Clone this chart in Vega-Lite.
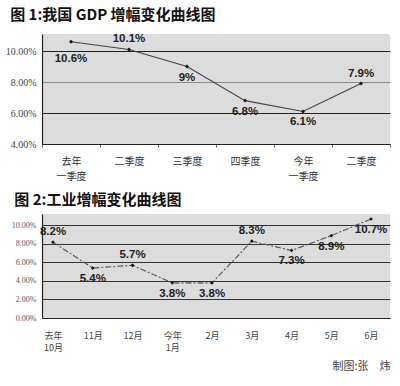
{
  "$schema": "https://vega.github.io/schema/vega-lite/v6.json",
  "background": "white",
  "padding": {"left": 5, "top": 8, "right": 5, "bottom": 0},
  "spacing": 12,
  "config": {
    "view": {"fill": "#dcdcdc", "stroke": null},
    "title": {"font": "Noto Sans CJK SC", "fontWeight": "bold", "fontSize": 15, "color": "#111", "anchor": "start"}
  },
  "vconcat": [
    {
      "title": {"text": "图 1:我国 GDP 增幅变化曲线图", "offset": 10, "dx": 5},
      "width": 348,
      "height": 110,
      "data": {"values": [
        {"q": "去年|一季度", "v": 10.6},
        {"q": "二季度", "v": 10.1},
        {"q": "三季度", "v": 9},
        {"q": "四季度", "v": 6.8},
        {"q": "今年|一季度", "v": 6.1},
        {"q": "二季度 ", "v": 7.9}
      ]},
      "transform": [{"calculate": "datum.v + '%'", "as": "t"}],
      "encoding": {
        "x": {"field": "q", "type": "ordinal", "sort": null,
          "scale": {"type": "band", "paddingInner": 0, "paddingOuter": 0},
          "axis": {"title": null, "labelAngle": 0, "labelExpr": "split(datum.label, '|')",
            "labelFont": "Noto Sans CJK SC", "labelFontSize": 10, "labelColor": "#333", "labelLineHeight": 15,
            "labelPadding": 9, "tickBand": "extent", "tickSize": 3, "tickColor": "#666", "domainColor": "#222", "domainWidth": 1.2}},
        "y": {"field": "v", "type": "quantitative",
          "scale": {"domain": [4, 11.1], "nice": false, "zero": false},
          "axis": {"title": null, "values": [4, 6, 8, 10], "labelExpr": "format(datum.value, '.2f') + '%'",
            "labelFont": "Liberation Serif", "labelFontSize": 10, "labelColor": "#444", "ticks": false, "labelPadding": 6,
            "grid": true, "gridColor": {"condition": {"test": "datum.value === 8", "value": "#8a8a8a"}, "value": "#222"},
            "gridWidth": 1.2, "domainColor": "#222", "domainWidth": 1.2}}
      },
      "layer": [
        {"mark": {"type": "line", "stroke": "#444", "strokeWidth": 1.1}},
        {"mark": {"type": "point", "shape": "diamond", "filled": true, "fill": "#111", "size": 16, "opacity": 1}},
        {"transform": [{"filter": "indexof(['二季度', '二季度 '], datum.q) >= 0"}],
          "mark": {"type": "text", "font": "Liberation Sans", "fontWeight": "bold", "fontSize": 11.5, "fill": "#222", "baseline": "middle", "dy": -10},
          "encoding": {"text": {"field": "t"}}},
        {"transform": [{"filter": "datum.q === '去年|一季度'"}],
          "mark": {"type": "text", "font": "Liberation Sans", "fontWeight": "bold", "fontSize": 11.5, "fill": "#222", "baseline": "middle", "dy": 17},
          "encoding": {"text": {"field": "t"}}},
        {"transform": [{"filter": "indexof(['二季度', '二季度 ', '去年|一季度'], datum.q) < 0"}],
          "mark": {"type": "text", "font": "Liberation Sans", "fontWeight": "bold", "fontSize": 11.5, "fill": "#222", "baseline": "middle", "dy": 11},
          "encoding": {"text": {"field": "t"}}}
      ]
    },
    {
      "title": {"text": "图 2:工业增幅变化曲线图", "offset": 6, "dx": 3},
      "width": 348,
      "height": 104,
      "data": {"values": [
        {"m": "去年|10月", "v": 8.2},
        {"m": "11月", "v": 5.4},
        {"m": "12月", "v": 5.7},
        {"m": "今年|1月", "v": 3.8},
        {"m": "2月", "v": 3.8},
        {"m": "3月", "v": 8.3},
        {"m": "4月", "v": 7.3},
        {"m": "5月", "v": 8.9},
        {"m": "6月", "v": 10.7}
      ]},
      "transform": [{"calculate": "datum.v + '%'", "as": "t"}],
      "encoding": {
        "x": {"field": "m", "type": "ordinal", "sort": null,
          "scale": {"type": "point", "padding": 0.377, "align": 0.367},
          "axis": {"title": "制图:张　炜", "titleAnchor": "end", "titleFont": "Noto Sans CJK SC", "titleFontSize": 11,
            "titleFontWeight": "normal", "titleColor": "#444", "titlePadding": 8,
            "labelAngle": 0, "labelExpr": "split(datum.label, '|')",
            "labelFont": "Noto Sans CJK SC", "labelFontSize": 9, "labelColor": "#444", "labelLineHeight": 12,
            "labelPadding": 13, "ticks": false, "domainColor": "#222", "domainWidth": 1.2}},
        "y": {"field": "v", "type": "quantitative",
          "scale": {"domain": [0, 11.24], "nice": false, "zero": true},
          "axis": {"title": null, "values": [0, 2, 4, 6, 8, 10], "labelExpr": "format(datum.value, '.2f') + '%'",
            "labelFont": "Liberation Serif", "labelFontSize": 8, "labelColor": "#555", "ticks": false, "labelPadding": 6,
            "grid": true, "gridColor": "#333", "gridWidth": 1.1, "domainColor": "#222", "domainWidth": 1.2}}
      },
      "layer": [
        {"mark": {"type": "line", "stroke": "#555", "strokeWidth": 1.1, "strokeDash": [6, 2, 2, 2]}},
        {"mark": {"type": "point", "shape": "diamond", "filled": true, "fill": "#111", "size": 14, "opacity": 1}},
        {"transform": [{"filter": "indexof(['去年|10月', '12月', '3月'], datum.m) >= 0"}],
          "mark": {"type": "text", "font": "Liberation Sans", "fontWeight": "bold", "fontSize": 11.5, "fill": "#222", "baseline": "middle", "dy": -10},
          "encoding": {"text": {"field": "t"}}},
        {"transform": [{"filter": "indexof(['去年|10月', '12月', '3月'], datum.m) < 0"}],
          "mark": {"type": "text", "font": "Liberation Sans", "fontWeight": "bold", "fontSize": 11.5, "fill": "#222", "baseline": "middle", "dy": 11},
          "encoding": {"text": {"field": "t"}}}
      ]
    }
  ]
}
